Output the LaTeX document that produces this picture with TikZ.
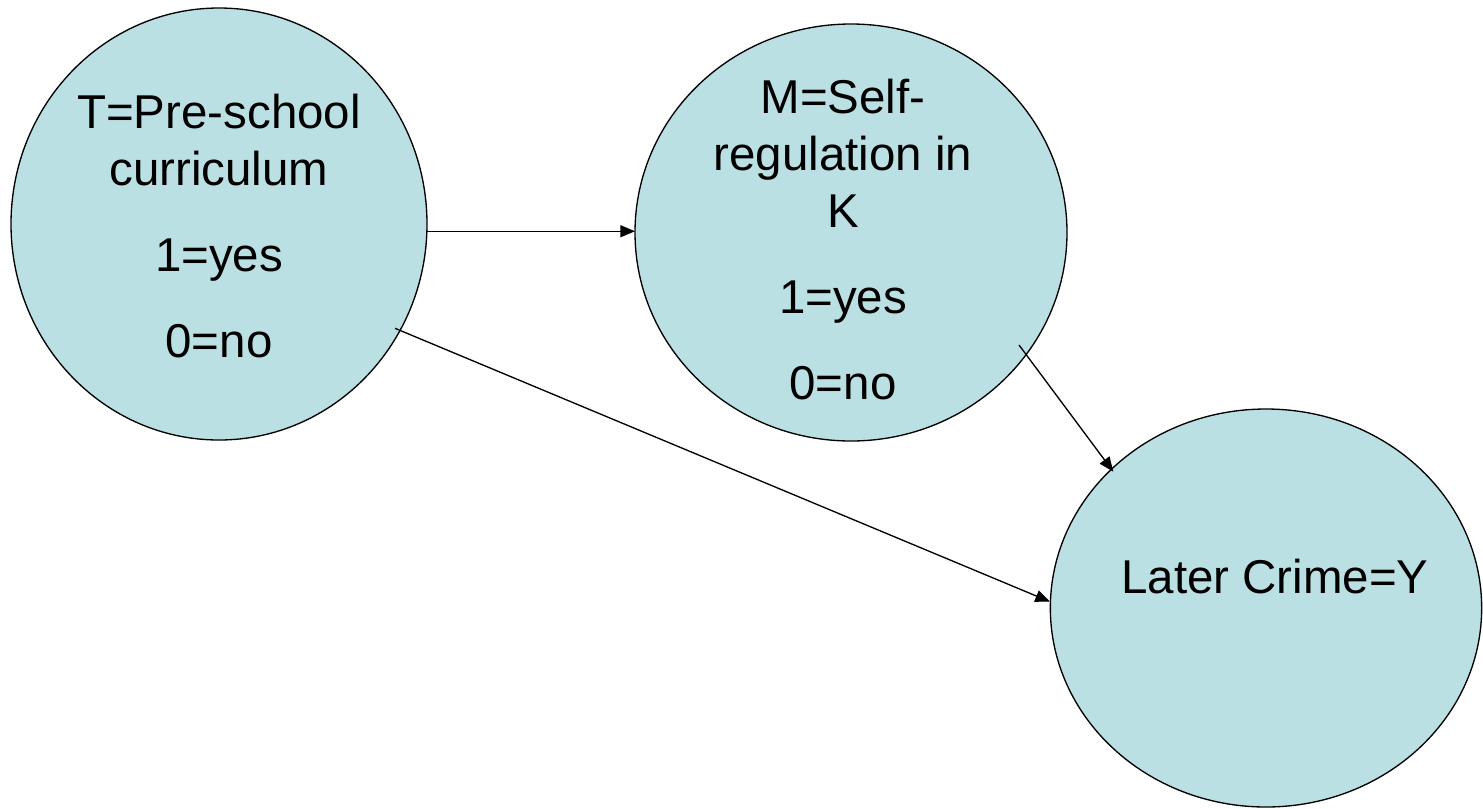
\documentclass[tikz,border=0pt]{standalone}
\usepackage{fontspec}
\setmainfont{Liberation Sans}
\usetikzlibrary{shapes.geometric,arrows.meta}
\definecolor{nodefill}{RGB}{187,224,227}
\begin{document}
\begin{tikzpicture}[x=0.75pt,y=-0.75pt,
  blob/.style={ellipse,draw=black,line width=1pt,fill=nodefill,inner sep=0pt,outer sep=0pt},
  caption/.style={anchor=base,inner sep=0pt,font=\fontsize{35.6}{43}\selectfont},
  link/.style={line width=1pt,-{Triangle[length=11pt,width=9pt]}}]
\useasboundingbox (0,0) rectangle (1483,808);

% variables
\node[blob,minimum width=312pt,minimum height=324pt] (T) at (219,224) {};
\node[blob,minimum width=324pt,minimum height=312.75pt] (M) at (851,232.5) {};
\node[blob,minimum width=323.5pt,minimum height=298.5pt] (Y) at (1266,608) {};

% labels
\node[caption] (Ttext) at (219,128) {\begin{tabular}[t]{@{}c@{}}T=Pre-school\\curriculum\\[21.5pt]1=yes\\[21.5pt]0=no\end{tabular}};
\node[caption] (Mtext) at (843,113.3) {\begin{tabular}[t]{@{}c@{}}M=Self-\\regulation in\\K\\[21.5pt]1=yes\\[21.5pt]0=no\end{tabular}};
\node[caption] (Ytext) at (1275,593.3) {Later Crime=Y};

% causal paths
\draw[link] (T.-2.75) -- (T.-2.75 -| M.west);
\draw[link] ([shift={(176,104.3)}]T.center) -- ([shift={(-216,-6.3)}]Y.center);
\draw[link] ([shift={(168,112.5)}]M.center) -- ([shift={(-152.7,-136.3)}]Y.center);
\end{tikzpicture}
\end{document}
